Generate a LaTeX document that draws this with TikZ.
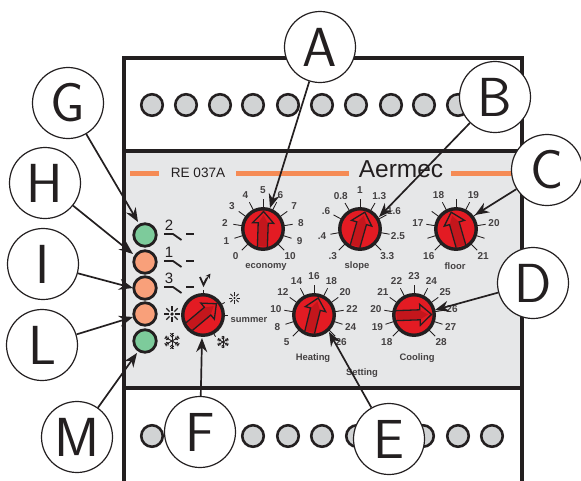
\documentclass[tikz,border=0pt]{standalone}
\usepackage{fontspec}
\setmainfont{Liberation Sans}
\setsansfont{Latin Modern Sans}
\usetikzlibrary{arrows.meta,calc}
\definecolor{panel}{HTML}{E6E7E8}
\definecolor{ink}{HTML}{231F20}
\definecolor{termc}{HTML}{D1D3D4}
\definecolor{oran}{HTML}{F9A07A}
\definecolor{gree}{HTML}{7DCB9B}
\definecolor{barc}{HTML}{F58B55}
\definecolor{kred}{HTML}{E31B23}
\definecolor{kdark}{HTML}{C4161C}
\tikzset{
  frame/.style={draw=ink,line width=3.2pt},
  term/.style={circle,draw=ink,line width=2.6pt,fill=termc,minimum size=21.5pt,inner sep=0pt},
  led/.style={circle,draw=ink,line width=2.8pt,minimum size=22.5pt,inner sep=0pt},
  callout/.style={circle,draw=ink,line width=1.2pt,fill=white,minimum size=71pt,inner sep=0pt,font=\sffamily\fontsize{55}{55}\selectfont,text=ink},
  conn/.style={draw=ink,line width=1.7pt,-{Stealth[length=14pt,width=11pt]}},
  knob/.style={circle,draw=ink,line width=3.4pt,fill=kred,minimum size=40.5pt,inner sep=0pt},
  dialtick/.style={draw=ink,line width=0.85pt},
  num/.style={font=\bfseries\fontsize{10}{10}\selectfont,text=ink!85,inner sep=0pt},
  captxt/.style={font=\bfseries\fontsize{9.4}{10}\selectfont,text=ink!85,inner sep=0pt},
  swnum/.style={font=\fontsize{15}{15}\selectfont,text=ink,inner sep=0pt},
  swline/.style={draw=ink,line width=1.8pt},
  orangebar/.style={fill=barc,draw=none},
  ico/.style={draw=ink,line width=0.9pt}
}
\newcommand{\pointer}[2]{%
  \begin{scope}[shift={(#1)},rotate=#2]
    \fill[kdark] (-4.4,17.5) -- (-4.4,-6.5) -- (0,-14) -- (4.4,-6.5) -- (4.4,17.5) -- cycle;
    \draw[ink,line width=1.3pt] (-5,18) -- (-5,-6) -- (-10.5,-6) -- (0,-17.5) -- (10.5,-6) -- (5,-6) -- (5,18);
  \end{scope}}
\newcommand{\dial}[2]{%
  \foreach \a/\t in {#2} {
    \draw[dialtick] ($(#1)+(\a-90:19)$) -- ($(#1)+(\a-90:30)$);
    \node[num] at ($(#1)+(\a-90:38.5)$) {\t};
  }}
\newcommand{\sunicon}[2]{%
  \begin{scope}[shift={(#1)},scale=#2]
    \foreach \a in {0,45,...,315} \draw[ico] (\a:2.5) -- (\a:6);
    \fill[ink] (0,0) circle (1.3);
  \end{scope}}
\newcommand{\snowicon}[2]{%
  \begin{scope}[shift={(#1)},scale=#2]
    \foreach \a in {30,90,...,330} {
      \draw[ico] (0,0) -- (\a:8);
      \draw[ico] (\a:4) -- ++(\a+45:2.6);
      \draw[ico] (\a:4) -- ++(\a-45:2.6);
      \draw[ico] (\a:6.2) -- ++(\a+45:2.2);
      \draw[ico] (\a:6.2) -- ++(\a-45:2.2);
    }
  \end{scope}}
\begin{document}
\begin{tikzpicture}[x=1pt,y=-1pt]
\useasboundingbox (0,0) rectangle (581,480);
\path[fill=panel] (124,151) rectangle (522,388);
\draw[frame] (124,482) -- (124,58) -- (522,58) -- (522,482);
\draw[frame] (124,151) -- (522,151);
\draw[frame] (124,388) -- (522,388);
\foreach \x [count=\i] in {152,186,220,253,288,322,356,391,424,458} \node[term] (tt\i) at (\x,105) {};
\foreach \x [count=\i] in {152,186,220,253,288,322,357,391,423,458,492} \node[term] (tb\i) at (\x,436) {};
\fill[orangebar] (130,171) rectangle (158.5,176);
\fill[orangebar] (236,171) rectangle (349,176);
\fill[orangebar] (451,171) rectangle (515,176);
\node[font=\fontsize{13.6}{14}\selectfont,text=ink,inner sep=0pt] (model) at (198,172.5) {RE 037A};
\node[font=\fontsize{24.5}{25}\selectfont,text=ink,inner sep=0pt] (brand) at (401,169.5) {Aermec};
\node[led,fill=gree] (l1) at (145,235) {};
\node[led,fill=oran] (l2) at (145,262) {};
\node[led,fill=oran] (l3) at (145,288) {};
\node[led,fill=oran] (l4) at (145,314) {};
\node[led,fill=gree] (l5) at (145,341) {};
\foreach \n/\y/\lab in {1/234/2,2/261/1,3/287/3} {
  \node[swnum] (s\n) at (169,{\y-8.5}) {\lab};
  \draw[swline] (164,\y) -- (173,\y) -- (181.5,{\y+6});
  \draw[swline] (186,\y) -- (194,\y);
}
\begin{scope}[ico/.append style={line width=1.3pt}]
\sunicon{172,314}{1.35}
\end{scope}
\snowicon{172,341}{1.0}
\node[knob] (ka) at (263,229) {};
\node[knob] (kb) at (360,229) {};
\node[knob] (kc) at (456,229) {};
\node[knob] (kf) at (203,315) {};
\node[knob] (ke) at (314,315) {};
\node[knob] (kd) at (414,315) {};
\dial{ka}{-135/0,-108/1,-81/2,-54/3,-27/4,0/5,27/6,54/7,81/8,108/9,135/10}
\dial{kb}{-135/.3,-100/.4,-62/.6,-30/0.8,0/1,30/1.3,62/1.6,100/2.5,135/3.3}
\dial{kc}{-135/16,-108/,-81/17,-54/,-27/18,0/,27/19,54/,81/20,108/,135/21}
\dial{ke}{-135/5,-108/8,-81/10,-54/12,-27/14,0/16,27/18,54/20,81/22,108/24,135/26}
\dial{kd}{-135/18,-108/19,-81/20,-54/21,-27/22,0/23,27/24,54/25,81/26,108/27,135/28}
\foreach \a in {0,60,90,150} \draw[dialtick] ($(kf)+(\a-90:19)$) -- ($(kf)+(\a-90:25)$);
\pointer{ka}{-2}
\pointer{kb}{-16}
\pointer{kc}{16}
\pointer{kf}{-50}
\pointer{ke}{-14}
\pointer{kd}{-88}
\draw[ink,line width=1.8pt] (200,277) -- (203.5,285) -- (207,278);
\draw[ink,line width=1pt,-{Stealth[length=5pt,width=5pt]}] (205,281) -- (210.5,273.5);
\sunicon{234.5,298}{0.95}
\snowicon{223,342}{0.75}
\node[captxt,anchor=west] (summer) at (230.5,320) {summer};
\node[captxt] (c1) at (266,267) {economy};
\node[captxt] (c2) at (357,266.5) {slope};
\node[captxt] (c3) at (455,266.5) {floor};
\node[captxt] (c4) at (313,358.5) {Heating};
\node[captxt] (c5) at (417,358.5) {Cooling};
\node[captxt] (c6) at (362,373.5) {Setting};
\node[callout] (A) at (320,47) {A};
\node[callout] (B) at (495,97) {B};
\node[callout] (C) at (547,170) {C};
\node[callout] (D) at (533,283) {D};
\node[callout] (E) at (389,439) {E};
\node[callout] (F) at (200,432) {F};
\node[callout] (G) at (68,103) {G};
\node[callout] (H) at (45,183) {H};
\node[callout] (I) at (43,264) {I};
\node[callout] (L) at (42,345) {L};
\node[callout] (M) at (77,437) {M};
\coordinate (ta) at (270,208);
\coordinate (tb) at (379,217);
\coordinate (tc) at (475,215);
\coordinate (td) at (435,310);
\coordinate (te) at (329,332);
\coordinate (tf) at (202,338);
\coordinate (tg) at (138,222);
\coordinate (th) at (133,254);
\coordinate (ti) at (133,288);
\coordinate (tl) at (133,317);
\coordinate (tm) at (137,353);
\draw[conn] (A) -- (ta);
\draw[conn] (B) -- (tb);
\draw[conn] (C) -- (tc);
\draw[conn] (D) -- (td);
\draw[conn] (E) -- (te);
\draw[conn] (F) -- (tf);
\draw[conn] (G) -- (tg);
\draw[conn] (H) -- (th);
\draw[conn] (I) -- (ti);
\draw[conn] (L) -- (tl);
\draw[conn] (M) -- (tm);
\end{tikzpicture}
\end{document}
